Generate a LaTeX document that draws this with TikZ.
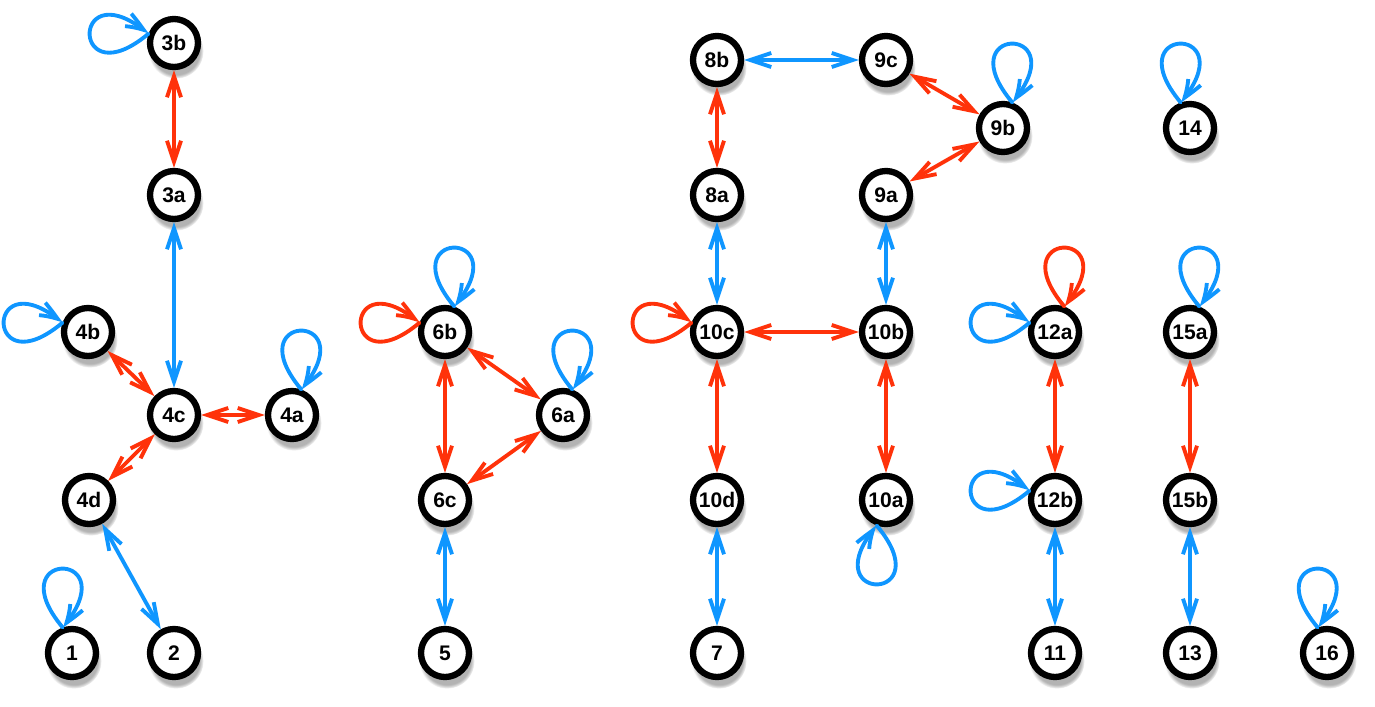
\documentclass[tikz,border=0pt]{standalone}
\usepackage{fontspec}
\setmainfont{Liberation Sans}
\usetikzlibrary{positioning,arrows.meta,shadows,bending}
\definecolor{strred}{RGB}{255,50,10}
\definecolor{strblue}{RGB}{15,150,255}
\tikzset{
  st/.style={font=\bfseries\fontsize{12}{14}\selectfont, text=black},
  stnode/.style={
    st, circle, draw=black, fill=white, line width=3.6pt,
    minimum size=0.96cm, inner sep=0pt,
    circular drop shadow={shadow xshift=1pt, shadow yshift=-4pt, shadow scale=1.15, opacity=0.6}
  },
  sttip/.tip={Straight Barb[length=4.2mm,width=2.8mm]},
  stedge/.style={line width=2.2pt, line cap=round, line join=round},
  stred/.style={stedge, draw=strred, sttip-sttip},
  stblue/.style={stedge, draw=strblue, sttip-sttip},
  stredloop/.style={stedge, draw=strred, -{sttip[bend]}},
  stblueloop/.style={stedge, draw=strblue, -{sttip[bend]}},
}

\begin{document}
\begin{tikzpicture}[st, node distance=3cm, on grid]
    \useasboundingbox (0,0) rectangle (27.5,-14.14);

    % Gruppe 3/4/1/2
    \node[stnode] (3b) at (3.48,-0.86) {3b};
    \node[stnode, below=3.04cm of 3b] (3a) {3a};
    \node[stnode, below=4.40cm of 3a] (4c) {4c};
    \node[stnode, above left=1.66cm and 1.72cm of 4c] (4b) {4b};
    \node[stnode, right=2.36cm of 4c] (4a) {4a};
    \node[stnode, below left=1.70cm and 1.70cm of 4c] (4d) {4d};
    \node[stnode, below=4.76cm of 4c] (2) {2};
    \node[stnode, left=2.04cm of 2] (1) {1};

    % Gruppe 6/5
    \node[stnode] (6b) at (8.90,-6.64) {6b};
    \node[stnode, below=3.36cm of 6b] (6c) {6c};
    \node[stnode, below right=1.66cm and 2.36cm of 6b] (6a) {6a};
    \node[stnode, below=3.06cm of 6c] (5) {5};

    % Gruppe 8/9/10/7
    \node[stnode] (8b) at (14.34,-1.20) {8b};
    \node[stnode, below=2.70cm of 8b] (8a) {8a};
    \node[stnode, below=2.74cm of 8a] (10c) {10c};
    \node[stnode, below=3.36cm of 10c] (10d) {10d};
    \node[stnode, below=3.06cm of 10d] (7) {7};
    \node[stnode, right=3.38cm of 8b] (9c) {9c};
    \node[stnode, right=3.38cm of 8a] (9a) {9a};
    \node[stnode, right=3.38cm of 10c] (10b) {10b};
    \node[stnode, right=3.38cm of 10d] (10a) {10a};
    \node[stnode, below right=1.36cm and 2.34cm of 9c] (9b) {9b};

    % rechte Gruppen
    \node[stnode, right=3.74cm of 9b] (14) {14};
    \node[stnode, right=3.38cm of 10b] (12a) {12a};
    \node[stnode, right=3.38cm of 10a] (12b) {12b};
    \node[stnode, below=3.06cm of 12b] (11) {11};
    \node[stnode, right=2.70cm of 12a] (15a) {15a};
    \node[stnode, right=2.70cm of 12b] (15b) {15b};
    \node[stnode, right=2.70cm of 11] (13) {13};
    \node[stnode, right=2.74cm of 13] (16) {16};

    % rote Kanten
    \draw[stred] (3b) -- (3a);
    \draw[stred] (4b) -- (4c);
    \draw[stred] (4c) -- (4a);
    \draw[stred] (4c) -- (4d);
    \draw[stred] (6b) -- (6c);
    \draw[stred] (6b) -- (6a);
    \draw[stred] (6a) -- (6c);
    \draw[stred] (8b) -- (8a);
    \draw[stred] (9c) -- (9b);
    \draw[stred] (9b) -- (9a);
    \draw[stred] (10c) -- (10b);
    \draw[stred] (10c) -- (10d);
    \draw[stred] (10b) -- (10a);
    \draw[stred] (12a) -- (12b);
    \draw[stred] (15a) -- (15b);

    % blaue Kanten
    \draw[stblue] (3a) -- (4c);
    \draw[stblue] (4d) -- (2);
    \draw[stblue] (6c) -- (5);
    \draw[stblue] (8b) -- (9c);
    \draw[stblue] (8a) -- (10c);
    \draw[stblue] (9a) -- (10b);
    \draw[stblue] (10d) -- (7);
    \draw[stblue] (12b) -- (11);
    \draw[stblue] (15b) -- (13);

    % Schleifen links
    \draw[stblueloop] (3b.160) .. controls +(220:2.05) and +(140:2.05) .. (3b.160);
    \draw[stblueloop] (4b.160) .. controls +(220:2.05) and +(140:2.05) .. (4b.160);
    \draw[stredloop] (6b.160) .. controls +(220:2.05) and +(140:2.05) .. (6b.160);
    \draw[stredloop] (10c.160) .. controls +(220:2.05) and +(140:2.05) .. (10c.160);
    \draw[stblueloop] (12a.160) .. controls +(220:2.05) and +(140:2.05) .. (12a.160);
    \draw[stblueloop] (12b.160) .. controls +(220:2.05) and +(140:2.05) .. (12b.160);

    % Schleifen oben
    \draw[stblueloop] (4a.70) .. controls +(130:2.05) and +(50:2.05) .. (4a.70);
    \draw[stblueloop] (6b.70) .. controls +(130:2.05) and +(50:2.05) .. (6b.70);
    \draw[stblueloop] (6a.70) .. controls +(130:2.05) and +(50:2.05) .. (6a.70);
    \draw[stblueloop] (9b.70) .. controls +(130:2.05) and +(50:2.05) .. (9b.70);
    \draw[stblueloop] (14.110) .. controls +(130:2.05) and +(50:2.05) .. (14.110);
    \draw[stredloop] (12a.70) .. controls +(130:2.05) and +(50:2.05) .. (12a.70);
    \draw[stblueloop] (15a.70) .. controls +(130:2.05) and +(50:2.05) .. (15a.70);
    \draw[stblueloop] (1.110) .. controls +(130:2.05) and +(50:2.05) .. (1.110);
    \draw[stblueloop] (16.110) .. controls +(130:2.05) and +(50:2.05) .. (16.110);

    % Schleife unten
    \draw[stblueloop] (10a.250) .. controls +(310:2.05) and +(230:2.05) .. (10a.250);
  \end{tikzpicture}
\end{document}
